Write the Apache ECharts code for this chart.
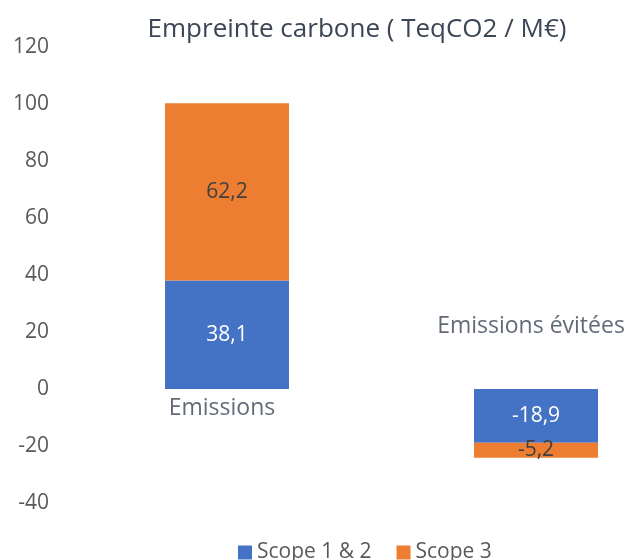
<!DOCTYPE html>
<html>
<head>
<meta charset="utf-8">
<script src="https://cdn.jsdelivr.net/npm/echarts@6/dist/echarts.min.js"></script>
<style>
  html, body { margin: 0; padding: 0; background: #fff; }
  #chart { width: 630px; height: 560px; }
</style>
</head>
<body>
<div id="chart"></div>
<script>
var categories = ['Emissions', 'Emissions évitées'];
var scope12 = [38.1, -18.9];
var scope3 = [62.2, -5.2];
var yTicks = { min: -40, max: 120, interval: 20 };

var fontName = 'Open Sans';

function formatFr(v) {
  return String(v).replace('.', ',');
}

var myChart = echarts.init(document.getElementById('chart'));
myChart.setOption({
  color: ['#4472C4', '#ED7D31'],
  animation: false,
  title: {
    text: 'Empreinte carbone ( TeqCO2 / M€)',
    left: 352,
    textAlign: 'center',
    top: 12,
    textStyle: { fontFamily: fontName, fontSize: 26, fontWeight: 'normal', color: '#3b4556' }
  },
  legend: {
    data: ['Scope 1 & 2', 'Scope 3'],
    top: 537,
    left: 233,
    itemWidth: 14,
    itemHeight: 14,
    itemGap: 25,
    icon: 'rect',
    textStyle: { fontFamily: fontName, fontSize: 21, color: '#595959' }
  },
  // grid edges go through the two bar centres (boundaryGap false)
  grid: { left: 227, right: 94, top: 47, bottom: 57 },
  xAxis: {
    type: 'category',
    data: categories,
    boundaryGap: false,
    axisLine: { show: false },
    axisTick: { show: false },
    axisLabel: { show: false }
  },
  yAxis: {
    type: 'value',
    min: yTicks.min,
    max: yTicks.max,
    interval: yTicks.interval,
    splitLine: { show: false },
    axisLine: { show: false, onZero: false },
    axisTick: { show: false },
    axisLabel: { fontFamily: fontName, fontSize: 21, color: '#595959', margin: 178 }
  },
  series: [
    {
      name: 'Scope 1 & 2',
      type: 'bar',
      stack: 'total',
      barWidth: 124,
      clip: false,
      data: scope12,
      label: {
        show: true,
        position: 'inside',
        formatter: function (p) { return formatFr(p.value); },
        fontFamily: fontName, fontSize: 21, color: '#ffffff'
      }
    },
    {
      name: 'Scope 3',
      type: 'bar',
      stack: 'total',
      barWidth: 124,
      clip: false,
      data: scope3,
      label: {
        show: true,
        position: 'inside',
        formatter: function (p) { return formatFr(p.value); },
        fontFamily: fontName, fontSize: 21, color: '#404040'
      }
    },
    {
      name: 'categories',
      type: 'scatter',
      symbolSize: 0,
      silent: true,
      clip: false,
      data: [
        { value: 0, label: { position: 'bottom', distance: 8 } },
        { value: 0, label: { position: 'top', distance: 51 } }
      ],
      label: {
        show: true,
        offset: [-5, 0],
        formatter: function (p) { return categories[p.dataIndex]; },
        fontFamily: fontName, fontSize: 23, color: '#3b4556'
      }
    }
  ]
});
</script>
</body>
</html>
